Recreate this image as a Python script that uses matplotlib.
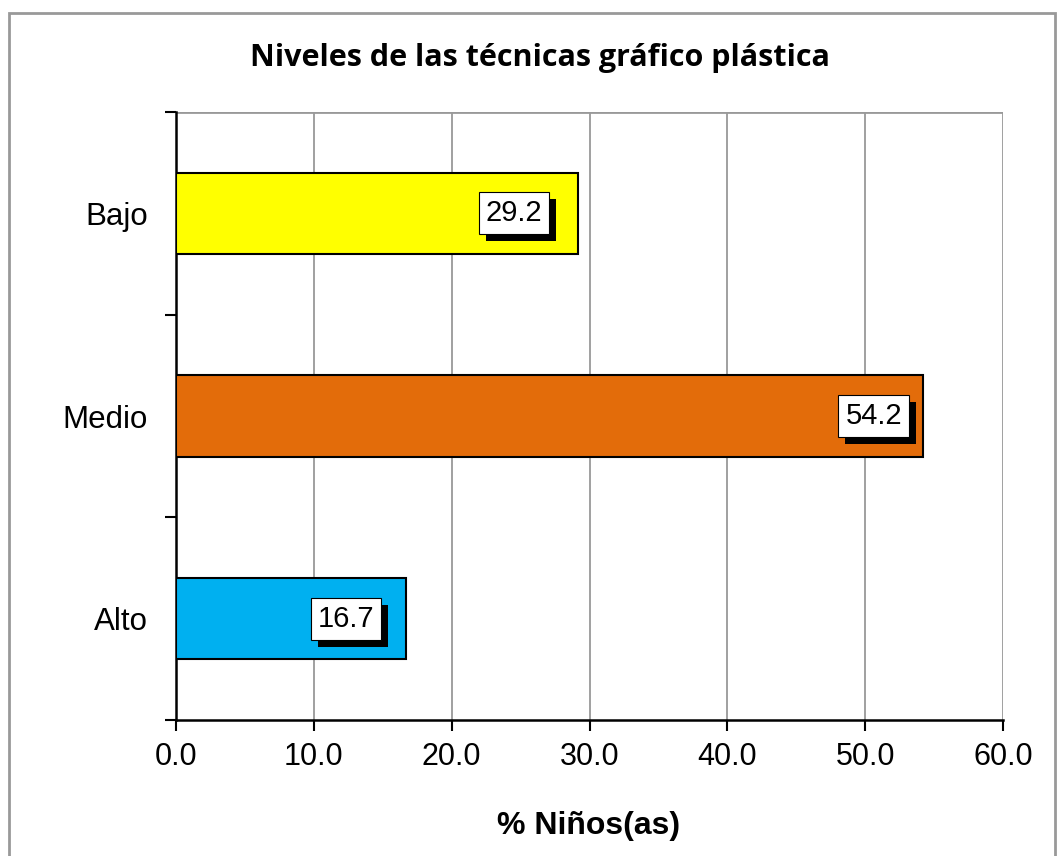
import matplotlib
matplotlib.use("Agg")
import matplotlib.pyplot as plt
import matplotlib.patheffects as pe
from matplotlib.patches import Rectangle

categories = ["Alto", "Medio", "Bajo"]
values = [16.7, 54.2, 29.2]
colors = ["#00B0F0", "#E36C0A", "#FFFF00"]
xticks = [0, 10, 20, 30, 40, 50, 60]

fig = plt.figure(figsize=(10.6, 8.56), dpi=100)
fig.patches.append(Rectangle((9/1060, -0.01), 1046/1060, 1.01 - 13/856, transform=fig.transFigure,
                             fill=False, edgecolor="#999999", linewidth=2.0))
ax = fig.add_axes([176/1060, 1 - 720/856, (1003-176)/1060, (720-112)/856])

y = list(range(len(categories)))
ax.barh(y, values, height=0.40, color=colors, edgecolor="black", linewidth=1.5, zorder=3)
ax.set_xlim(0, 60)
ax.set_ylim(-0.5, 2.5)
ax.set_xticks(xticks)
ax.set_xticklabels([f"{v:.1f}" for v in xticks], fontsize=22, family="Liberation Sans")
ax.set_yticks(y)
ax.set_yticklabels(categories, fontsize=22.5, family="Liberation Sans")
ax.tick_params(axis="y", length=0, pad=20)
ax.set_yticks([-0.5, 0.5, 1.5, 2.5], minor=True)
ax.tick_params(axis="y", which="minor", length=8, width=1.5, color="black")
ax.tick_params(axis="x", length=8, width=1.5, pad=8)
ax.grid(axis="x", color="#999999", linewidth=1.3, zorder=0)
ax.axhline(2.5, color="#999999", linewidth=2, zorder=1)
for s in ["top", "right"]:
    ax.spines[s].set_visible(False)
ax.spines["left"].set_linewidth(1.8)
ax.spines["bottom"].set_linewidth(1.8)

offsets = [-32, -21, -36]
for yi, v, off in zip(y, values, offsets):
    t = ax.annotate(f"{v:.1f}", (v, yi), xytext=(off, 0), textcoords="offset pixels",
                    ha="right", va="center", fontsize=21, family="Liberation Sans", zorder=5,
                    bbox=dict(boxstyle="square,pad=0.24", facecolor="white", edgecolor="black", linewidth=0.8))
    t.get_bbox_patch().set_path_effects([
        pe.SimplePatchShadow(offset=(5, -5), shadow_rgbFace="black", alpha=1.0),
        pe.Normal()])

fig.text(540/1060, 1 - 58/856, "Niveles de las técnicas gráfico plástica", ha="center", va="center",
         fontsize=22, fontweight="bold", family="Open Sans")
fig.text(589/1060, 1 - 826/856, "% Niños(as)", ha="center", va="center",
         fontsize=23, fontweight="bold", family="Liberation Sans")

fig.savefig("out.png", dpi=100)
